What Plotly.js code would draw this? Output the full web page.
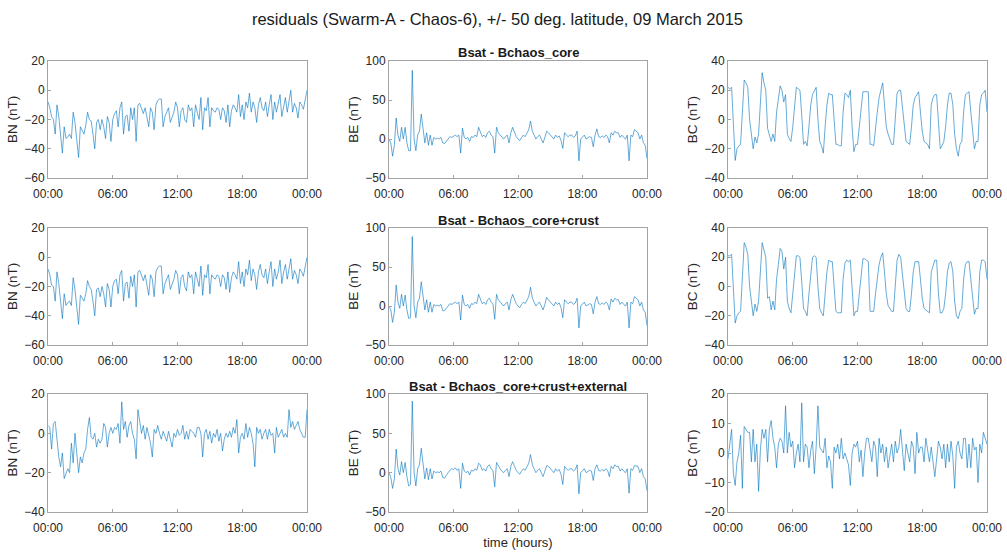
<!DOCTYPE html>
<html>
<head>
<meta charset="utf-8">
<script src="https://cdn.plot.ly/plotly-3.0.1.min.js"></script>
<style>html,body{margin:0;padding:0;background:#fff;}#chart{width:1007px;height:552px;}</style>
</head>
<body>
<div id="chart"></div>
<script>
// time of each sample, minutes after 00:00 on 09 March 2015
const minutes = [0,10,20,30,40,50,60,70,80,90,100,110,120,130,140,150,160,170,180,190,200,210,220,230,240,250,260,270,280,290,300,310,320,330,340,350,360,370,380,390,400,410,420,430,440,450,460,470,480,490,500,510,520,530,540,550,560,570,580,590,600,610,620,630,640,650,660,670,680,690,700,710,720,730,740,750,760,770,780,790,800,810,820,830,840,850,860,870,880,890,900,910,920,930,940,950,960,970,980,990,1000,1010,1020,1030,1040,1050,1060,1070,1080,1090,1100,1110,1120,1130,1140,1150,1160,1170,1180,1190,1200,1210,1220,1230,1240,1250,1260,1270,1280,1290,1300,1310,1320,1330,1340,1350,1360,1370,1380,1390,1400,1410,1420,1430,1440];

const tickMinutes = [0, 360, 720, 1080, 1440];
const tickLabels = ["00:00", "06:00", "12:00", "18:00", "00:00"];

const rowTitles = ["Bsat - Bchaos_core", "Bsat - Bchaos_core+crust", "Bsat - Bchaos_core+crust+external"];
const yLabels = ["BN (nT)", "BE (nT)", "BC (nT)"];

// Row 1: Bsat - Bchaos_core
const bnCore = [-8,-12,-18,-20,-30,-10, -18,-30,-43,-25,-33,-32, -30,-33,-15,-22,-35,-46, -25,-28,-30,-24,-15,-20, -21,-30,-40,-22,-20,-27, -20,-25,-33,-18,-22,-35, -20,-16,-14,-25,-12,-8, -30,-18,-17,-28,-12,-20, -12,-35,-10,-9,-12,-16, -12,-20,-25,-12,-15,-27, -10,-7,-6,-6,-25,-18, -15,-12,-22,-18,-15,-8, -12,-25,-14,-12,-20,-22, -10,-14,-12,-25,-10,-15, -20,-5,-27,-12,-14,-5, -25,-12,-14,-15,-12,-13, -20,-12,-14,-22,-10,-25, -14,-10,-12,-15,-3,-18, -10,-20,-8,-12,-2,-15, -8,-12,-22,-10,-5,-12, -14,-8,-18,-10,-3,-20, -8,-15,-10,-3,-18,-10, -5,-15,-8,0,-15,-9, -12,-19,-8,-10,-13,-7, 0];
const beCore = [0,-5,-22,-8,27,5, -3,15,0,15,-5,-15, -15,88,0,-15,5,10, 32,10,-5,8,-8,5, -8,2,0,1,0,2, -5,-6,-3,0,3,2, 4,5,3,5,-18,14, 2,0,2,-3,3,2, 5,3,15,10,3,5, 2,8,10,5,3,-18, 15,8,5,2,0,3, 5,-5,8,15,8,3, 0,-2,2,5,3,8, 12,23,10,5,0,3, 5,0,-5,2,10,8, 5,3,0,5,2,4, -2,-12,8,5,3,5, 5,2,4,10,-28,0, 3,5,0,2,3,2, -10,5,13,3,2,4, 2,5,3,-5,8,5, 10,8,8,2,5,2, 0,5,-28,5,3,12, 10,8,0,5,-5,-8, -25];
const bcCore = [22,21,22,-5,-28,-20, -18,-17,5,27,25,22, 0,-12,-20,-12,-16,-10, 10,32,25,20,-6,-10, -15,-10,-15,5,15,23, 20,12,17,-10,-13,-15, -5,10,22,21,20,3, -17,-15,-18,-5,10,17, 20,22,0,-15,-18,-23, -5,10,18,17,17,0, -17,-17,-18,-18,5,18, 17,15,20,-5,-22,-17, -17,-5,10,19,19,19, 19,-17,-17,-18,-5,5, 15,20,25,10,-5,-10, -13,-17,-17,5,18,20, 20,8,-5,-15,-16,-17, -5,10,15,17,19,5, -8,-15,-16,-17,-20,10, 15,17,17,-5,-20,-18, -15,-5,10,18,18,10, -10,-20,-25,-17,-15,5, 17,18,19,5,-10,-20, -15,-15,10,17,18,20, 5];

// Row 2: Bsat - Bchaos_core+crust
const bnCrust = [-8,-12,-19,-20,-30,-10, -18,-31,-42,-25,-33,-31, -30,-33,-14,-22,-35,-46, -26,-28,-30,-25,-16,-20, -22,-30,-40,-22,-21,-27, -20,-25,-34,-18,-22,-34, -20,-16,-15,-25,-12,-9, -30,-18,-17,-28,-13,-20, -12,-34,-10,-9,-12,-16, -12,-20,-26,-12,-15,-27, -10,-7,-6,-6,-25,-18, -15,-12,-22,-18,-15,-9, -12,-25,-14,-12,-20,-23, -10,-14,-12,-25,-10,-15, -20,-6,-26,-12,-14,-5, -25,-12,-14,-15,-12,-13, -20,-12,-14,-22,-10,-24, -14,-10,-12,-15,-3,-18, -10,-20,-8,-12,-2,-16, -8,-12,-22,-10,-5,-12, -14,-8,-18,-10,-3,-20, -8,-15,-10,-2,-18,-10, -5,-15,-8,-1,-15,-9, -12,-18,-8,-10,-13,-7, 0];
const beCrust = [0,-5,-21,-8,27,5, -3,15,0,14,-5,-16, -15,89,0,-15,5,10, 31,10,-5,8,-8,5, -8,2,0,1,0,2, -6,-6,-3,0,3,2, 4,5,3,5,-18,14, 2,0,2,-3,3,2, 5,3,15,10,3,5, 2,8,10,5,3,-17, 15,8,5,2,0,3, 5,-5,8,15,8,3, 0,-2,2,5,3,8, 12,24,10,5,0,3, 5,0,-5,2,11,8, 5,3,0,5,2,4, -2,-15,8,5,3,5, 5,2,4,10,-28,0, 3,5,0,2,3,2, -10,5,12,3,2,4, 2,5,3,-5,9,5, 10,8,8,2,5,2, 0,5,-28,5,3,12, 10,8,0,5,-5,-8, -25];
const bcCrust = [21,21,22,-5,-25,-20, -18,-17,5,30,27,22, 0,-10,-20,-12,-17,-10, 10,30,25,20,-8,-7, -16,-10,-16,5,15,26, 24,12,20,-10,-15,-18, -5,10,21,21,20,3, -15,-17,-20,-5,10,20, 21,20,0,-15,-18,-20, -5,10,18,17,17,0, -17,-18,-18,-18,5,16, 18,17,18,-5,-20,-17, -17,-5,10,19,19,18, 17,-17,-17,-17,-5,5, 15,20,23,10,-5,-13, -15,-17,-17,5,18,22, 20,8,-5,-15,-17,-17, -5,10,17,17,17,5, -8,-15,-16,-17,-18,10, 15,18,18,-5,-18,-18, -15,-5,10,16,17,10, -10,-20,-22,-17,-15,5, 15,17,17,5,-10,-19, -15,-15,10,18,18,17, 5];

// Row 3: Bsat - Bchaos_core+crust+external
const bnExternal = [4,3,-8,5,6,-3, -12,-17,-10,-23,-20,-18, -20,-5,-15,0,-10,-20, -12,-15,-10,-8,2,8, -2,-3,0,-7,-3,-5, -3,5,3,-7,0,3, 0,3,2,5,-5,16, 2,6,-2,4,6,0, -3,-13,12,5,0,4, -3,3,-1,-5,-12,2, 0,4,0,-3,1,-2, -4,1,-3,-7,0,-2, 2,-1,0,4,-3,1, -3,2,1,0,-2,3, 3,0,-12,0,2,-3, 1,-5,0,-2,2,-4, 0,-9,-3,0,-2,1, -2,3,0,7,-10,-2, 0,-3,5,-2,3,0, -5,-17,3,0,2,-3, 0,2,-3,2,-1,0, -10,3,-2,0,2,-2, 0,-2,12,3,6,2, 4,6,2,0,-2,-2, 12];
const beExternal = [0,-6,-20,-8,30,5, -3,14,0,13,-5,-17, -15,91,0,-17,5,10, 31,10,-8,6,-9,5, -8,2,0,1,0,2, -6,-7,-3,0,3,5, 4,6,3,5,-20,12, 2,0,2,-3,3,2, 5,3,12,10,3,5, 2,8,10,5,3,-18, 13,8,5,2,0,3, 5,-5,8,14,8,3, 0,-2,2,5,3,8, 12,23,10,5,0,3, 5,0,-5,2,9,8, 5,3,0,5,2,4, -2,-15,8,5,3,5, 5,2,4,10,-27,0, 3,5,0,2,3,2, -10,5,10,3,2,4, 2,5,3,-5,8,5, 10,8,8,2,5,2, 0,5,-26,5,3,9, 8,8,0,5,-5,-8, -23];
const bcExternal = [-2,4,8,-7,-11,-3, 0,6,-12,9,8,7, 7,-3,8,-3,3,-13, 1,8,5,8,-3,8, 11,5,2,-5,3,5, 4,0,16,0,7,2, 4,-5,0,3,-3,17, -3,3,2,-5,1,4, -7,2,16,2,1,0, 5,-5,-1,-3,-12,2, 0,3,-2,5,-2,0, -2,-4,-11,0,3,2, 4,-3,1,-8,0,5, 5,1,-3,4,2,-8, 5,0,3,-3,2,-5, 0,3,-3,4,0,2, 8,0,-6,3,0,-3, 4,2,-7,7,0,2, 2,-3,5,1,-3,2, -3,-8,-2,4,2,-2, 3,-5,3,-3,4,-1, -12,2,4,0,-2,5, 5,-5,3,-5,5,1, 2,-10,3,0,7,5, 3];

const seriesGrid = [
  [bnCore, beCore, bcCore],
  [bnCrust, beCrust, bcCrust],
  [bnExternal, beExternal, bcExternal]
];
const yRanges = [
  [[-60, 20], [-50, 100], [-40, 40]],
  [[-60, 20], [-50, 100], [-40, 40]],
  [[-40, 20], [-50, 100], [-20, 20]]
];
const yDticks = [
  [20, 50, 20],
  [20, 50, 20],
  [20, 50, 10]
];

const W = 1007, H = 552;
const colPx = [[48, 307], [389, 647], [728, 987]];
const rowPx = [[61, 178], [228, 345], [394, 512]];

const axisLine = '#a3a3a3';
const textCol = '#262626';
const lineCol = '#0072BD';
const fam = 'Liberation Sans, Arial, Helvetica, sans-serif';

const traces = [];
const layout = {
  width: W, height: H,
  margin: {l: 0, r: 0, t: 0, b: 0},
  paper_bgcolor: '#ffffff',
  plot_bgcolor: '#ffffff',
  showlegend: false,
  font: {family: fam, size: 12, color: textCol},
  title: {
    text: 'residuals (Swarm-A - Chaos-6), +/- 50 deg. latitude, 09 March 2015',
    font: {size: 16.5, color: '#1a1a1a', family: fam},
    x: 497.5 / W, xanchor: 'center', xref: 'paper',
    y: 1 - 19 / H, yanchor: 'middle', yref: 'container'
  },
  annotations: []
};

for (let r = 0; r < 3; r++) {
  for (let c = 0; c < 3; c++) {
    const idx = r * 3 + c + 1;
    const xa = 'x' + (idx === 1 ? '' : idx);
    const ya = 'y' + (idx === 1 ? '' : idx);
    traces.push({
      type: 'scatter', mode: 'lines',
      x: minutes, y: seriesGrid[r][c],
      xaxis: xa, yaxis: ya,
      line: {color: lineCol, width: 0.6},
      hoverinfo: 'skip'
    });
    const xKey = 'xaxis' + (idx === 1 ? '' : idx);
    const yKey = 'yaxis' + (idx === 1 ? '' : idx);
    layout[xKey] = {
      domain: [colPx[c][0] / W, colPx[c][1] / W],
      anchor: ya,
      range: [0, 1440],
      tickmode: 'array', tickvals: tickMinutes, ticktext: tickLabels,
      showgrid: false, zeroline: false,
      showline: true, mirror: true, linecolor: axisLine, linewidth: 1,
      ticks: 'inside', ticklen: 3, tickcolor: axisLine, tickwidth: 1,
      tickfont: {size: 12, color: textCol, family: fam},
      ticklabelstandoff: 5,
      automargin: false
    };
    if (r === 2 && c === 1) {
      layout[xKey].title = {text: 'time (hours)', font: {size: 13, color: textCol, family: fam}, standoff: 1};
    }
    layout[yKey] = {
      domain: [1 - rowPx[r][1] / H, 1 - rowPx[r][0] / H],
      anchor: xa,
      range: yRanges[r][c],
      dtick: yDticks[r][c], tick0: 0,
      showgrid: false, zeroline: false,
      showline: true, mirror: true, linecolor: axisLine, linewidth: 1,
      ticks: 'inside', ticklen: 3, tickcolor: axisLine, tickwidth: 1,
      tickfont: {size: 12, color: textCol, family: fam},
      title: {text: yLabels[c], font: {size: 13.5, color: textCol, family: fam}, standoff: 3},
      automargin: false
    };
  }
  layout.annotations.push({
    text: '<b>' + rowTitles[r] + '</b>',
    xref: 'paper', yref: 'paper',
    x: (colPx[1][0] + colPx[1][1]) / 2 / W,
    y: 1 - (rowPx[r][0] - 8) / H,
    xanchor: 'center', yanchor: 'middle',
    showarrow: false,
    font: {size: 13, color: '#1a1a1a', family: fam}
  });
}

Plotly.newPlot('chart', traces, layout, {staticPlot: true, displayModeBar: false});
</script>
</body>
</html>
